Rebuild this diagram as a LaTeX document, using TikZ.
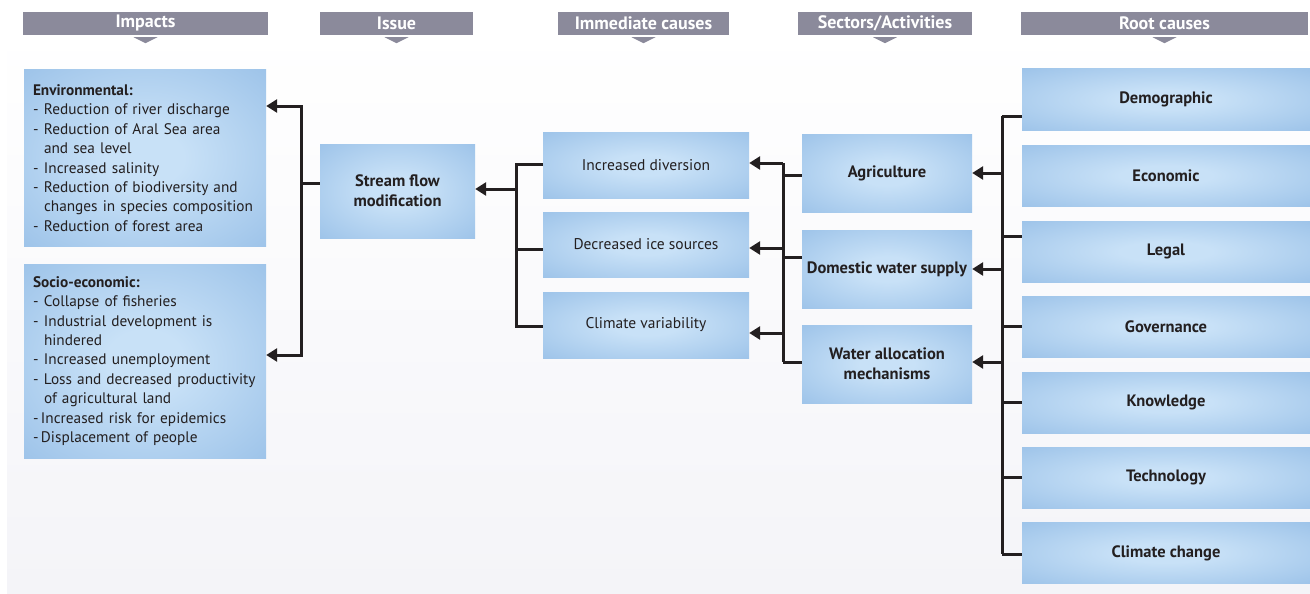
\documentclass[tikz,border=0pt]{standalone}
\usepackage{fontspec}
\setmainfont{PT Sans}
\usetikzlibrary{arrows.meta}

\definecolor{boxin}{HTML}{C8E1F7}
\definecolor{boxout}{HTML}{9AC1E8}
\definecolor{headgray}{HTML}{8B8A9B}
\definecolor{inkdark}{HTML}{231F20}
\definecolor{paper}{HTML}{F4F4F8}
\pgfdeclareradialshading{boxglow}{\pgfpoint{0bp}{0bp}}{color(0bp)=(boxin); color(8bp)=(boxin); color(38bp)=(boxout); color(50bp)=(boxout)}

\newcommand{\dashitem}{\makebox[11pt][l]{-}}
\newcommand{\dashtight}{\makebox[8pt][l]{-}}
\newcommand{\hangon}{\hspace*{11pt}}

\begin{document}
\begin{tikzpicture}[x=1pt, y=-1pt,
    header/.style ={fill=headgray, text=white, inner sep=0pt, minimum height=23pt,
                    font=\bfseries\fontsize{18}{20}\selectfont},
    box/.style    ={shading=boxglow, inner sep=0pt, text=inkdark, align=center,
                    font=\bfseries\fontsize{16.5}{20}\selectfont},
    plainbox/.style ={box, font=\fontsize{15.5}{19}\selectfont},
    listbox/.style ={box, align=left, text width=224pt,
                    font=\fontsize{15.3}{19.4}\selectfont},
    link/.style   ={line width=3pt, draw=inkdark},
    arrow/.style  ={link, -{Triangle[length=11pt, width=13pt]}}]
   \useasboundingbox (0,0) rectangle (1310,594);
   \fill[top color=white, bottom color=paper] (7,25) rectangle (1310,594);

   % column headers
   \node[header, minimum width=245pt] (hImp)  at (145.5,23.5) {Impacts};
   \node[header, minimum width=153pt] (hIss)  at (396.5,23.5) {Issue};
   \node[header, minimum width=171pt] (hImm)  at (643.5,23.5) {Immediate causes};
   \node[header, minimum width=174pt] (hSec)  at (885,23.5)   {Sectors/Activities};
   \node[header, minimum width=287pt] (hRoot) at (1164.5,23.5) {Root causes};
   \foreach \h in {hImp,hIss,hImm,hSec,hRoot}
      \fill[headgray] ([yshift=-2pt]\h.south) ++(-12,0) -- ++(24,0) -- ++(-12,6) -- cycle;

   % impacts
   \node[listbox, minimum width=242pt, minimum height=176pt] (env) at (145,158)
      {{\bfseries Environmental:}\\
       \dashitem Reduction of river discharge\\
       \dashitem Reduction of Aral Sea area\\
       \hangon and sea level\\
       \dashitem Increased salinity\\
       \dashitem Reduction of biodiversity and\\
       \hangon changes in species composition\\
       \dashitem Reduction of forest area};
   \node[listbox, minimum width=242pt, minimum height=194pt] (socio) at (145,361)
      {{\bfseries Socio-economic:}\\
       \dashitem Collapse of fisheries\\
       \dashitem Industrial development is\\
       \hangon hindered\\
       \dashitem Increased unemployment\\
       \dashitem Loss and decreased productivity\\
       \hangon of agricultural land\\
       \dashtight Increased risk for epidemics\\
       \dashtight Displacement of people};

   % issue
   \node[box, minimum width=155pt, minimum height=94pt] (issue) at (397.5,191)
      {Stream flow\\modification};

   % immediate causes
   \node[plainbox, minimum width=206pt, minimum height=66pt] (incdiv)  at (646,165)   {Increased diversion};
   \node[plainbox, minimum width=206pt, minimum height=65pt] (decice)  at (646,244.5) {Decreased ice sources};
   \node[plainbox, minimum width=206pt, minimum height=66pt] (climvar) at (646,325)   {Climate variability};

   % sectors
   \node[box, minimum width=170pt, minimum height=78pt] (agri)     at (887,173) {Agriculture};
   \node[box, minimum width=170pt, minimum height=78pt] (domestic) at (887,269) {Domestic water supply};
   \node[box, minimum width=170pt, minimum height=78pt] (water)    at (887,364) {Water allocation\\mechanisms};

   % root causes
   \node[box, minimum width=288pt, minimum height=61pt] (demog)  at (1166,99.5)  {Demographic};
   \node[box, minimum width=288pt, minimum height=61pt] (econ)   at (1166,175.5) {Economic};
   \node[box, minimum width=288pt, minimum height=61pt] (legal)  at (1166,251.5) {Legal};
   \node[box, minimum width=288pt, minimum height=61pt] (gov)    at (1166,326.5) {Governance};
   \node[box, minimum width=288pt, minimum height=61pt] (know)   at (1166,402.5) {Knowledge};
   \node[box, minimum width=288pt, minimum height=61pt] (tech)   at (1166,477.5) {Technology};
   \node[box, minimum width=288pt, minimum height=61pt] (climch) at (1166,553)   {Climate change};

   % issue -> impacts
   \coordinate (jI) at (301,183);
   \draw[link] ([yshift=8pt]issue.west) -- (jI);
   \draw[arrow] (jI) |- ([yshift=52pt]env.east);
   \draw[arrow] (jI) |- ([yshift=6pt]socio.east);

   % immediate causes -> issue
   \coordinate (jC) at (516,189);
   \draw[arrow] (jC) -- (issue.east |- jC);
   \draw[link] ([yshift=1pt]incdiv.west) -| (jC);
   \draw[link] ([yshift=-4.5pt]decice.west) -| (jC);
   \draw[link] ([yshift=-1pt]climvar.west) -| (jC);

   % sectors -> immediate causes
   \coordinate (jS1) at (783,163);
   \coordinate (jS2) at (783,248);
   \coordinate (jS3) at (783,333);
   \coordinate (jS4) at (783,362);
   \draw[link] (jS1) -- (jS4);
   \draw[arrow] (jS1) -- (incdiv.east |- jS1);
   \draw[arrow] (jS2) -- (decice.east |- jS2);
   \draw[arrow] (jS3) -- (climvar.east |- jS3);
   \draw[link] ([yshift=-2pt]agri.west) -- ++(-19,0);
   \draw[link] ([yshift=12pt]domestic.west) -- ++(-19,0);
   \draw[link] ([yshift=2pt]water.west) -- (jS4);

   % root causes -> sectors
   \coordinate (jR1) at (1002,116);
   \coordinate (jR2) at (1002,554);
   \draw[link] (jR1) -- (jR2);
   \draw[link] ([yshift=-16.5pt]demog.west) -- (jR1);
   \draw[link] ([yshift=15.5pt]legal.west) -- ++(-20,0);
   \draw[link] (gov.west) -- ++(-20,0);
   \draw[link] (know.west) -- ++(-20,0);
   \draw[link] (tech.west) -- ++(-20,0);
   \draw[link] ([yshift=-1pt]climch.west) -- (jR2);
   \draw[arrow] (jR1 |- agri.east) -- (agri.east);
   \draw[arrow] (jR1 |- domestic.east) -- (domestic.east);
   \draw[arrow] ([yshift=2pt]water.east -| jR1) -- ([yshift=2pt]water.east);
\end{tikzpicture}
\end{document}
